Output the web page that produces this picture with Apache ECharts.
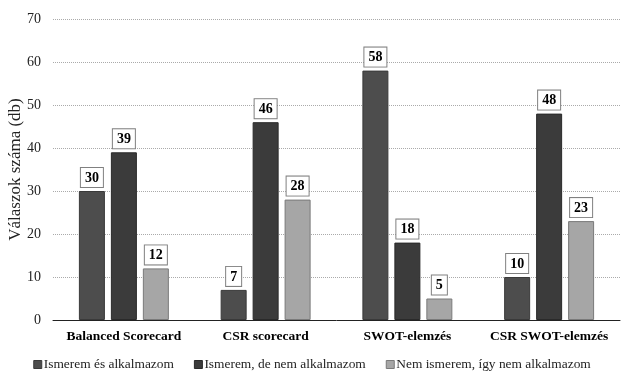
<!DOCTYPE html>
<html><head><meta charset="utf-8">
<script src="https://cdn.jsdelivr.net/npm/echarts@6/dist/echarts.min.js"></script>
<style>html,body{margin:0;padding:0;background:#fff}#c{width:624px;height:372px}</style>
</head><body><div id="c"></div>
<script>
var categories = ["Balanced Scorecard", "CSR scorecard", "SWOT-elemzés", "CSR SWOT-elemzés"];
var seriesNames = ["Ismerem és alkalmazom", "Ismerem, de nem alkalmazom", "Nem ismerem, így nem alkalmazom"];
var s1 = [30, 7, 58, 10];
var s2 = [39, 46, 18, 48];
var s3 = [12, 28, 5, 23];
var yTitle = "Válaszok száma (db)";

var font = "'Liberation Serif','Times New Roman',serif";
var colors = ["#4d4d4d", "#3b3b3b", "#a6a6a6"];
var borders = ["#3a3a3a", "#2a2a2a", "#7a7a7a"];
var chart = echarts.init(document.getElementById('c'), null, {renderer: 'canvas'});
function mk(name, data, i) {
  return {
    name: name, type: 'bar', data: data, barWidth: 26, barGap: '23%',
    itemStyle: {color: colors[i], borderColor: borders[i], borderWidth: 1},
    label: {show: true, position: 'top', distance: 4, fontFamily: font, fontWeight: 'bold', fontSize: 14,
      color: '#000', backgroundColor: '#fff', borderColor: '#808080', borderWidth: 1,
      padding: [3, 4, 2, 4]}
  };
}
chart.setOption({
  animation: false,
  textStyle: {fontFamily: font},
  grid: {left: 53, right: 4, top: 19, bottom: 52, outerBoundsMode: 'none', containLabel: false},
  legend: {
    top: 353, left: 'center', itemWidth: 8, itemHeight: 8, itemGap: 20,
    textStyle: {fontFamily: font, fontSize: 13.4, color: '#222', padding: [0, 0, 0, -3]},
    data: seriesNames.map(function (n, i) { return {name: n, icon: 'rect', itemStyle: {borderColor: borders[i], borderWidth: 1}}; })
  },
  xAxis: {
    type: 'category', data: categories,
    axisLine: {lineStyle: {color: '#222', width: 1}},
    axisTick: {show: false},
    axisLabel: {interval: 0, fontFamily: font, fontWeight: 'bold', fontSize: 13.5, color: '#000', margin: 10}
  },
  yAxis: {
    type: 'value', min: 0, max: 70, interval: 10,
    name: yTitle, nameLocation: 'middle', nameGap: 29, nameRotate: 90, nameMoveOverlap: false,
    nameTextStyle: {fontFamily: font, fontSize: 17, color: '#222'},
    axisLine: {show: false}, axisTick: {show: false},
    axisLabel: {fontFamily: font, fontSize: 14, color: '#222', margin: 12},
    splitLine: {lineStyle: {color: '#aaa', type: [1, 1], width: 1}}
  },
  series: [mk(seriesNames[0], s1, 0), mk(seriesNames[1], s2, 1), mk(seriesNames[2], s3, 2)]
});
</script></body></html>
